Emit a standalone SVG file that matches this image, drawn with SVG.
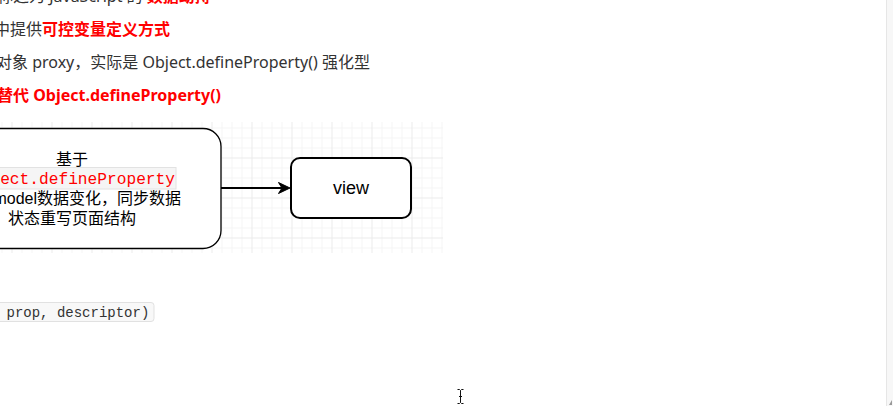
<svg xmlns="http://www.w3.org/2000/svg" width="893" height="406" viewBox="0 0 893 406">
<style>
.p{font-family:"Noto Sans","Noto Sans CJK SC",sans-serif;font-size:16px;fill:#333}
.r{fill:#ff0000;font-weight:bold}
.lbl{font-family:"Liberation Sans","Noto Sans CJK SC",sans-serif;font-size:16px;fill:#000}
.code{font-family:"Liberation Mono",monospace}
.minor{stroke:#f5f5f5;stroke-width:1;fill:none}
.major{stroke:#ebebeb;stroke-width:1;fill:none}
</style>
<rect width="893" height="406" fill="#ffffff"/>
<g id="text">
<text class="p" x="-3" y="2">称之为 JavaScript 的 <tspan class="r">数据劫持</tspan></text>
<text class="p" x="-6" y="35">中提供<tspan class="r">可控变量定义方式</tspan></text>
<text class="p" x="-4" y="68">对象 proxy，实际是 Object.defineProperty() 强化型</text>
<text class="p r" x="-3" y="101">替代 Object.defineProperty()</text>
</g>
<g id="grid">
<rect x="0" y="122" width="443" height="131" fill="#ffffff"/>
<path class="minor" d="M2 122v131M22 122v131M32 122v131M42 122v131M62 122v131M72 122v131M82 122v131M102 122v131M112 122v131M122 122v131M142 122v131M152 122v131M162 122v131M182 122v131M192 122v131M202 122v131M222 122v131M232 122v131M242 122v131M262 122v131M272 122v131M282 122v131M302 122v131M312 122v131M322 122v131M342 122v131M352 122v131M362 122v131M382 122v131M392 122v131M402 122v131M422 122v131M432 122v131M442 122v131M0 128H443M0 138H443M0 148H443M0 168H443M0 178H443M0 188H443M0 208H443M0 218H443M0 228H443M0 248H443"/>
<path class="major" d="M12 122v131M52 122v131M92 122v131M132 122v131M172 122v131M212 122v131M252 122v131M292 122v131M332 122v131M372 122v131M412 122v131M0 158H443M0 198H443M0 238H443"/>
</g>
<g id="model">
<rect x="-80" y="128.5" width="301" height="120" rx="18" ry="18" fill="#ffffff" stroke="#000000" stroke-width="1.3"/>
<text class="lbl" x="72" y="164.5" text-anchor="middle">基于</text>
<rect x="-2" y="167.5" width="178" height="21.5" fill="#f5f5f5" stroke="#e2e2e2" stroke-width="1"/>
<text class="code" x="175" y="183.5" text-anchor="end" font-size="16.2" fill="#ff0000">ect.defineProperty</text>
<text class="lbl" x="181" y="203.5" text-anchor="end">model数据变化，同步数据</text>
<text class="lbl" x="72" y="223.5" text-anchor="middle">状态重写页面结构</text>
</g>
<g id="view">
<rect x="291" y="158" width="120" height="60" rx="9" ry="9" fill="#ffffff" stroke="#000000" stroke-width="2"/>
<text x="351" y="194" text-anchor="middle" font-family="Liberation Sans, sans-serif" font-size="18" fill="#000">view</text>
</g>
<g id="connectors">
<path d="M221 188H282" stroke="#000" stroke-width="2" fill="none"/>
<path d="M290 188L278.5 182.5L282 188L278.5 193.5Z" fill="#000" stroke="#000" stroke-width="1"/>
</g>
<g id="codeblock">
<rect x="-5" y="302.5" width="159" height="19" rx="3" ry="3" fill="#f8f8f8" stroke="#e1e1e1" stroke-width="1"/>
<text class="code" x="6.5" y="317" font-size="14" fill="#333">prop, descriptor)</text>
</g>
<g id="chrome">
<rect x="886" y="0" width="7" height="406" fill="#f7f7f7"/>
<path d="M886.5 0V406" stroke="#e6e6e6" stroke-width="1"/>
<path d="M889 405L892 400V405Z" fill="#999"/>
<path d="M457.5 389.5h2l1 1l1-1h2M460.5 390.5v12M457.5 403.5h2l1-1l1 1h2M459 396.5h3" stroke="#111" stroke-width="1" fill="none"/>
</g>
</svg>
